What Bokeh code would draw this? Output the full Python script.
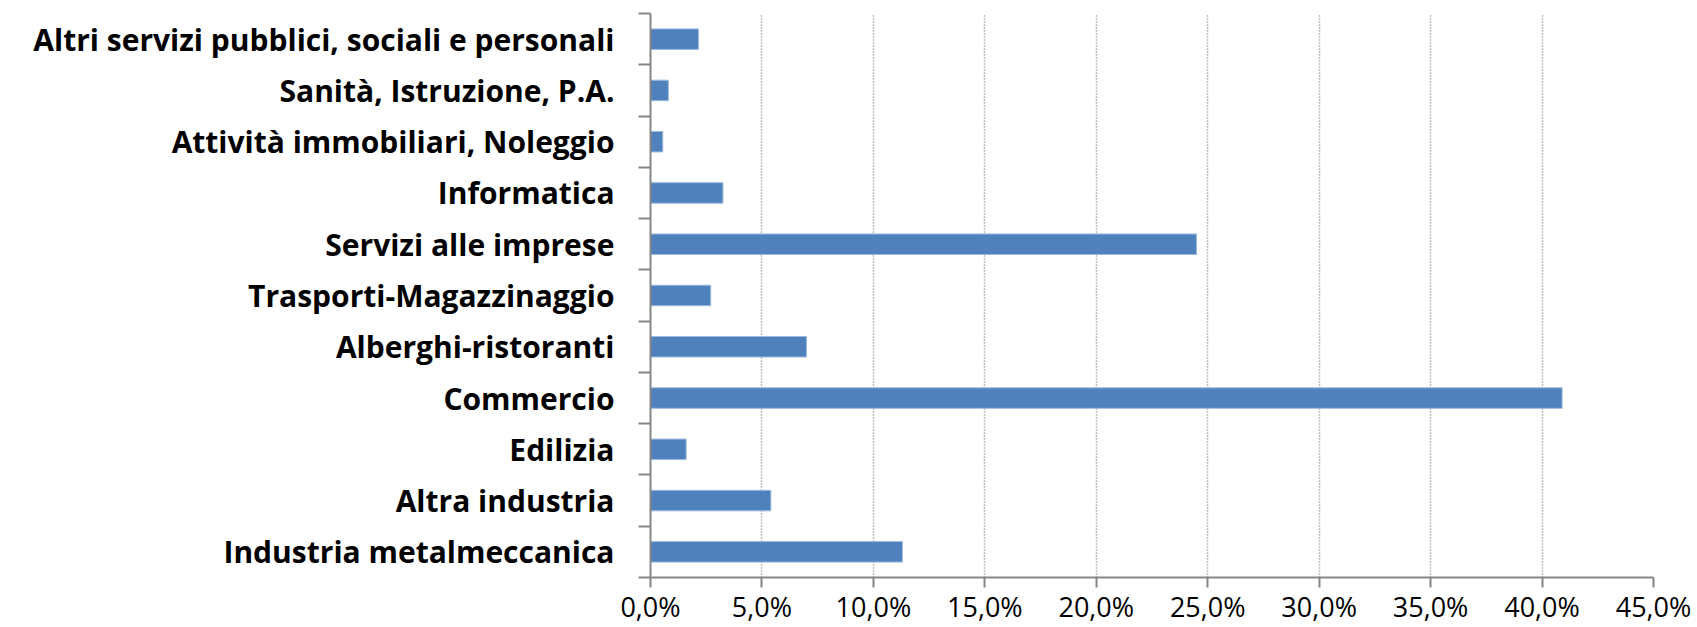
from bokeh.plotting import figure
from bokeh.models import FixedTicker, Range1d, ColumnDataSource
from bokeh.embed import file_html
from bokeh.resources import INLINE

# Categories listed bottom -> top
categories = [
    "Industria metalmeccanica",
    "Altra industria",
    "Edilizia",
    "Commercio",
    "Alberghi-ristoranti",
    "Trasporti-Magazzinaggio",
    "Servizi alle imprese",
    "Informatica",
    "Attività immobiliari, Noleggio",
    "Sanità, Istruzione, P.A.",
    "Altri servizi pubblici, sociali e personali",
]
values = [11.3, 5.4, 1.6, 40.9, 7.0, 2.7, 24.5, 3.25, 0.55, 0.8, 2.15]

x_ticks = [0, 5, 10, 15, 20, 25, 30, 35, 40, 45]
x_tick_labels = ["0,0%", "5,0%", "10,0%", "15,0%", "20,0%", "25,0%",
                 "30,0%", "35,0%", "40,0%", "45,0%"]

ypos = list(range(len(categories)))
src = ColumnDataSource(dict(y=ypos, v=values, cat=categories))

p = figure(width=1697, height=627, output_backend="svg", toolbar_location=None,
           x_range=Range1d(0, 45), y_range=Range1d(-0.5, len(categories) - 0.5),
           min_border_left=650, min_border_right=44, min_border_top=13,
           min_border_bottom=20)
p.outline_line_color = None
p.background_fill_color = "white"

p.hbar(y="y", right="v", left=0, height=0.4, source=src,
       fill_color="#4F81BD", line_color="#9DBBDF", line_width=1)

# x axis
p.xaxis.ticker = FixedTicker(ticks=x_ticks, minor_ticks=[])
p.xaxis.major_label_overrides = {t: l for t, l in zip(x_ticks, x_tick_labels)}
p.xaxis.axis_line_color = "#868686"
p.xaxis.axis_line_width = 2
p.xaxis.major_tick_line_color = "#868686"
p.xaxis.major_tick_line_width = 2
p.xaxis.major_tick_out = 10
p.xaxis.major_tick_in = 0
p.xaxis.minor_tick_line_color = None
p.xaxis.major_label_text_font = "Open Sans"
p.xaxis.major_label_text_font_size = "27px"
p.xaxis.major_label_text_color = "black"
p.xaxis.major_label_standoff = 0

# y axis
boundaries = [i - 0.5 for i in range(len(categories) + 1)]
p.yaxis.ticker = FixedTicker(ticks=ypos, minor_ticks=boundaries)
p.yaxis.major_label_overrides = {i: c for i, c in zip(ypos, categories)}
p.yaxis.axis_line_color = "#868686"
p.yaxis.axis_line_width = 2
p.yaxis.major_tick_line_color = None
p.yaxis.major_tick_out = 0
p.yaxis.major_tick_in = 0
p.yaxis.minor_tick_line_color = "#868686"
p.yaxis.minor_tick_line_width = 2
p.yaxis.minor_tick_out = 12
p.yaxis.minor_tick_in = 0
p.yaxis.major_label_text_font = "Open Sans"
p.yaxis.major_label_text_font_style = "bold"
p.yaxis.major_label_text_font_size = "30px"
p.yaxis.major_label_text_color = "black"
p.yaxis.major_label_standoff = 24

# grid
p.ygrid.grid_line_color = None
p.xgrid.ticker = FixedTicker(ticks=x_ticks[1:])
p.xgrid.grid_line_color = "#808080"
p.xgrid.grid_line_width = 1.5
p.xgrid.grid_line_dash = "1 2"

open("out.html", "w").write(file_html(p, INLINE))
